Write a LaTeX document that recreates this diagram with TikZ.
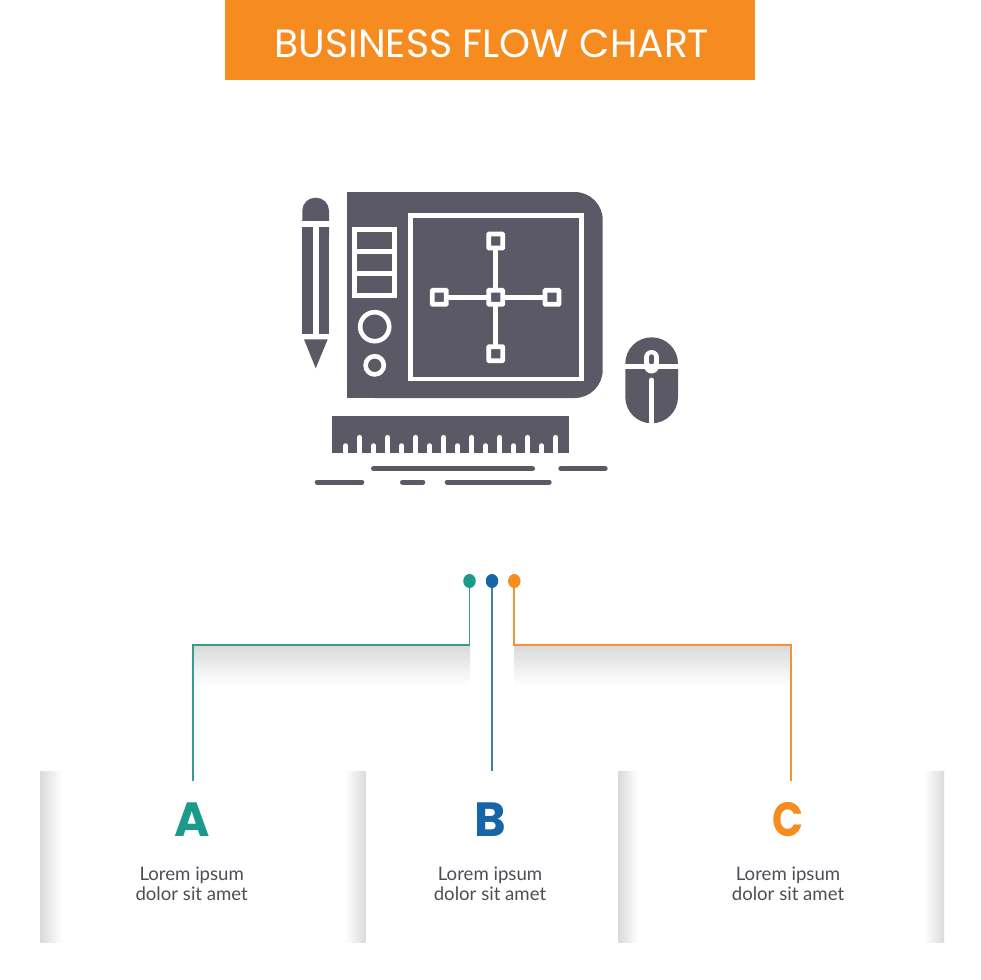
\documentclass[tikz,border=0pt]{standalone}
\usepackage{fontspec}
\setmainfont{Lato}
\newfontfamily\titlefont{Poppins}
\newfontfamily\letterfont{Poppins}[BoldFont={Poppins Bold}]
\definecolor{fg}{HTML}{5B5965}
\definecolor{txt}{HTML}{4F4E57}
\definecolor{teal}{HTML}{1B998B}
\definecolor{blu}{HTML}{1565A8}
\definecolor{org}{HTML}{F68C1F}
\definecolor{tealln}{HTML}{3A9A90}
\definecolor{bluln}{HTML}{3F7FA6}
\definecolor{orgln}{HTML}{F0933A}
\definecolor{shd}{HTML}{D9DADA}
\usetikzlibrary{shapes.geometric}
\tikzset{
  wl/.style={draw=white,line width=4.8pt},
  handle/.style={draw=white,fill=fg,line width=4.8pt,minimum size=14pt,inner sep=0pt,rectangle,rounded corners=0.6pt},
  ringnode/.style={draw=white,fill=fg,line width=4.6pt,circle,inner sep=0pt},
  dotnode/.style={ellipse,minimum width=12.5pt,minimum height=14pt,inner sep=0pt},
  conn/.style={line width=1.8pt},
  tickline/.style={draw=white,line width=5.2pt,line cap=round},
  dashline/.style={draw=fg,line width=5pt,line cap=round},
  letter/.style={font=\letterfont\bfseries\fontsize{48}{48}\selectfont,inner sep=0pt},
  body/.style={font=\fontsize{18.6}{20}\selectfont,text=txt,align=center,inner sep=0pt},
}
\begin{document}
\begin{tikzpicture}[x=1pt,y=-1pt]
\useasboundingbox (0,0) rectangle (980,980);
\fill[white] (0,0) rectangle (980,980);
% title
\fill[org] (225,0) rectangle (755,80);
\node[text=white,font=\titlefont\fontsize{39.4}{40}\selectfont,inner sep=0pt] (title) at (492,43.5) {BUSINESS FLOW CHART};
% tablet
\fill[fg,rounded corners=28pt] (347,192) rectangle (602.7,398);
\fill[fg] (347,192) rectangle (500,398);
\draw[wl] (410.3,215.5) rectangle (581.5,379);
\draw[wl] (495.7,241) -- (495.7,353.7);
\draw[wl] (439.3,297.3) -- (552,297.3);
\node[handle] (hc) at (495.7,297.3) {};
\node[handle] (ht) at (495.7,241) {};
\node[handle] (hb) at (495.7,353.7) {};
\node[handle] (hl) at (439.3,297.3) {};
\node[handle] (hr) at (552,297.3) {};
\draw[wl] (354.5,229.5) rectangle (394.8,295.2);
\draw[wl] (354.5,251.7) -- (394.8,251.7);
\draw[wl] (354.5,273.3) -- (394.8,273.3);
\node[ringnode,minimum size=29pt] (r1) at (374.7,326.7) {};
\node[ringnode,minimum size=18.2pt] (r2) at (374.7,365.3) {};
% pencil
\fill[fg,rounded corners=13pt] (302.3,197.7) rectangle (329,250);
\fill[fg] (302.3,220) rectangle (329,334.3);
\fill[white] (300,221.3) rectangle (331,226.7);
\fill[white] (312.7,226.7) rectangle (318.7,334.3);
\fill[fg] (304,339.3) -- (327.7,339.3) -- (315.7,368.3) -- cycle;
% mouse
\fill[fg,rounded corners=26.3pt] (625.3,337.3) rectangle (678,423.3);
\draw[white,line width=4.8pt,line cap=round] (651.7,380) -- (651.7,424);
\draw[white,line width=15pt,line cap=round] (651.7,357.5) -- (651.7,366);
\draw[fg,line width=5pt,line cap=round] (651.7,356.8) -- (651.7,362);
\draw[wl] (624,366.3) -- (679,366.3);
% ruler
\fill[fg] (331.7,416) rectangle (569,453.3);
\foreach \x in {209,293,377,461,545,629,713,797}
  \draw[tickline] ({\x/3+290},437.5) -- ({\x/3+290},456);
\foreach \x in {167,251,335,419,503,587,671,755}
  \draw[tickline] ({\x/3+290},445.8) -- ({\x/3+290},456);
\fill[white] (325,453.3) rectangle (575,459);
% dashes
\draw[dashline] (373.5,468.7) -- (532.5,468.7);
\draw[dashline] (560.8,468.7) -- (605.2,468.7);
\draw[dashline] (317.2,482) -- (361.8,482);
\draw[dashline] (402.5,482) -- (422.8,482);
\draw[dashline] (447.2,482) -- (549.2,482);
% shadows of connectors
\shade[top color=shd,bottom color=white] (193,646) rectangle (470,685);
\shade[top color=shd,bottom color=white] (514,646) rectangle (791,685);
% panels
\shade[left color=shd,right color=white] (40,771.5) rectangle (62,942.5);
\shade[left color=white,right color=shd] (345,771.5) rectangle (365.7,942.5);
\shade[left color=shd,right color=white] (618.3,771.5) rectangle (638,942.5);
\shade[left color=white,right color=shd] (924,771.5) rectangle (944,942.5);
% connectors
\node[dotnode,fill=teal] (d1) at (469.5,581) {};
\node[dotnode,fill=blu] (d2) at (492,581) {};
\node[dotnode,fill=org] (d3) at (514.3,581) {};
\coordinate (ea) at (192.7,781);
\coordinate (eb) at (492,771);
\coordinate (ec) at (791,781);
\draw[conn,tealln] (d1.south) -- (469.5,645) -- (192.7,645) -- (ea);
\draw[conn,bluln] (d2.south) -- (eb);
\draw[conn,orgln] (d3.south) -- (514.3,645) -- (791,645) -- (ec);
% labels
\node[letter,text=teal] (la) at (191.7,820) {A};
\node[letter,text=blu] (lb) at (490,820) {B};
\node[letter,text=org,xscale=.85] (lc) at (788.5,820) {C};
\node[body] (ta) at (191.7,884) {Lorem ipsum\\dolor sit amet};
\node[body] (tb) at (490,884) {Lorem ipsum\\dolor sit amet};
\node[body] (tc) at (788,884) {Lorem ipsum\\dolor sit amet};
\end{tikzpicture}
\end{document}
